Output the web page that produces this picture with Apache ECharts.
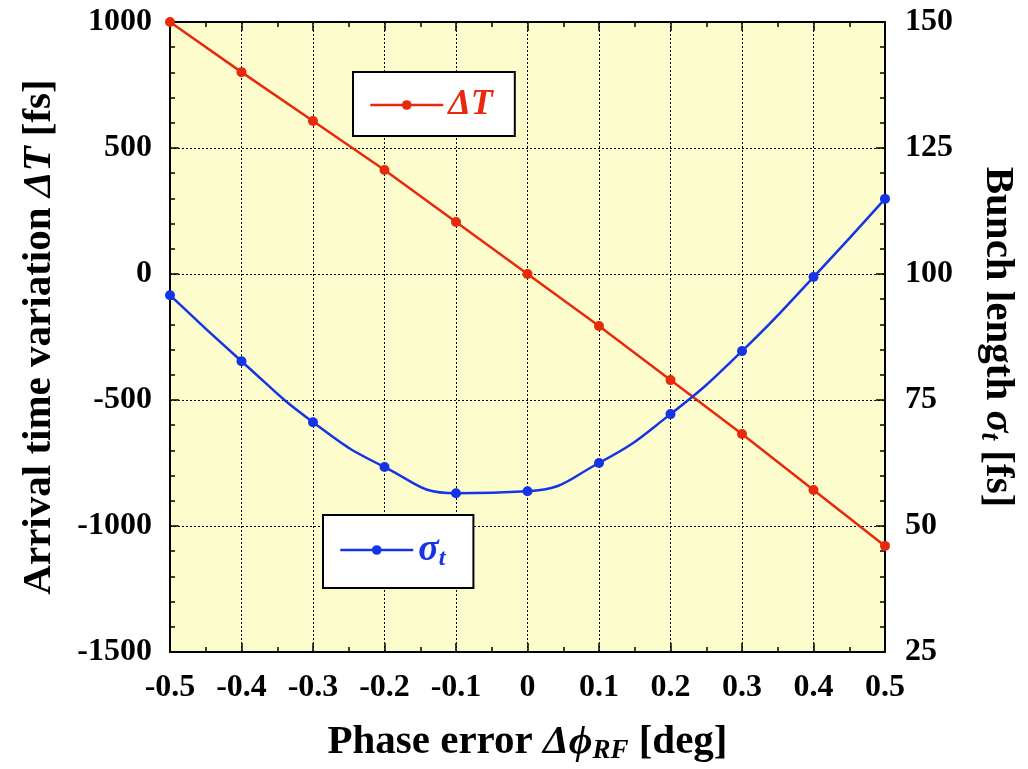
<!DOCTYPE html>
<html lang="en">
<head>
    <meta charset="UTF-8">
    <title>Arrival time variation and bunch length vs phase error</title>
    <script src="https://cdn.jsdelivr.net/npm/echarts@6/dist/echarts.min.js"></script>
    <style>
        html, body { margin: 0; padding: 0; background: #fff; }
        #main { width: 1028px; height: 769px; }
    </style>
</head>
<body>
    <div id="main"></div>
    <script>
        var chart = echarts.init(document.getElementById('main'));

        // phase error [deg]
        var phase = [-0.5, -0.4, -0.3, -0.2, -0.1, 0, 0.1, 0.2, 0.3, 0.4, 0.5];
        // arrival time variation ΔT [fs]
        var deltaT = [1000, 801, 607, 413, 206, 0, -206, -421, -635, -857, -1079];
        // bunch length σt [fs]
        var sigmaT = [95.8, 82.7, 70.6, 61.7, 56.5, 56.9, 62.5, 72.2, 84.7, 99.4, 114.9];

        var RED = '#e8290c';
        var BLUE = '#1434e6';
        var FONT = '"Liberation Serif", "Times New Roman", serif';

        function pairs(ys) {
            return phase.map(function (x, i) { return [x, ys[i]]; });
        }

        var axisLineStyle = { show: true, onZero: false, lineStyle: { color: '#000', width: 2 } };
        var tickStyle = { show: true, inside: true, length: 9, lineStyle: { color: '#000', width: 1.5 } };
        var minorStyle = { show: true, splitNumber: 5, length: 5, lineStyle: { color: '#000', width: 1.5 } };
        var xMinor = { show: true, splitNumber: 2, length: 5, lineStyle: { color: '#000', width: 1.5 } };
        var gridLine = { show: true, lineStyle: { color: '#000', type: [2, 2], width: 1 } };
        var labelStyle = { fontFamily: FONT, fontWeight: 'bold', fontSize: 32, color: '#000' };
        var titleBase = { fontFamily: FONT, fontWeight: 'bold', fontSize: 41, color: '#000' };
        var titleItalic = { fontFamily: FONT, fontStyle: 'italic', fontWeight: 'bold', fontSize: 41, color: '#000' };
        var titleSub = { fontFamily: FONT, fontStyle: 'italic', fontWeight: 'bold', fontSize: 27, color: '#000', padding: [19, 0, 0, 0] };

        var option = {
            animation: false,
            backgroundColor: '#fff',
            grid: {
                left: 170, right: 143, top: 22, bottom: 117,
                outerBoundsMode: 'none', containLabel: false,
                show: true, backgroundColor: '#fcfccc', borderWidth: 0
            },
            legend: [
                {
                    data: ['ΔT'], left: 353, top: 72,
                    padding: [15, 22, 13, 16],
                    backgroundColor: '#fff', borderColor: '#000', borderWidth: 2,
                    itemWidth: 73, itemHeight: 12, itemGap: 8,
                    lineStyle: { width: 2.5 },
                    formatter: function () { return '{i|ΔT}'; },
                    textStyle: {
                        color: RED,
                        rich: { i: { fontFamily: FONT, fontStyle: 'italic', fontWeight: 'bold', fontSize: 36, color: RED } }
                    }
                },
                {
                    data: ['σt'], left: 323, top: 515,
                    padding: [16, 28, 17, 16],
                    backgroundColor: '#fff', borderColor: '#000', borderWidth: 2,
                    itemWidth: 73, itemHeight: 12, itemGap: 8,
                    lineStyle: { width: 2.5 },
                    formatter: function () { return '{s|σ}{t|t}'; },
                    textStyle: {
                        color: BLUE,
                        rich: {
                            s: { fontFamily: FONT, fontStyle: 'italic', fontWeight: 'bold', fontSize: 38, color: BLUE },
                            t: { fontFamily: FONT, fontStyle: 'italic', fontWeight: 'bold', fontSize: 24, color: BLUE, padding: [18, 0, 0, 0] }
                        }
                    }
                }
            ],
            xAxis: [
                {
                    type: 'value', min: -0.5, max: 0.5, interval: 0.1,
                    name: 'Phase error {i|Δϕ}{sub|RF} [deg]',
                    nameLocation: 'middle', nameGap: 67,
                    nameTextStyle: Object.assign({ rich: { i: titleItalic, sub: titleSub } }, titleBase),
                    axisLine: axisLineStyle,
                    axisTick: tickStyle,
                    minorTick: xMinor,
                    axisLabel: Object.assign({ margin: 20, formatter: function (v) { return v === 0 ? '0' : v.toFixed(1); } }, labelStyle),
                    splitLine: gridLine
                },
                {
                    type: 'value', position: 'top', min: -0.5, max: 0.5, interval: 0.1,
                    axisLine: axisLineStyle,
                    axisTick: tickStyle,
                    minorTick: xMinor,
                    axisLabel: { show: false },
                    splitLine: { show: false }
                }
            ],
            yAxis: [
                {
                    type: 'value', min: -1500, max: 1000, interval: 500,
                    name: 'Arrival time variation {i|ΔT} [fs]',
                    nameLocation: 'middle', nameGap: 110,
                    nameTextStyle: Object.assign({ rich: { i: titleItalic } }, titleBase),
                    axisLine: axisLineStyle,
                    axisTick: tickStyle,
                    minorTick: minorStyle,
                    axisLabel: Object.assign({ margin: 18, formatter: function (v) { return String(v); } }, labelStyle),
                    splitLine: gridLine
                },
                {
                    type: 'value', position: 'right', min: 25, max: 150, interval: 25,
                    name: 'Bunch length {s|σ}{t|t} [fs]',
                    nameLocation: 'middle', nameGap: 90, nameRotate: -90,
                    nameTextStyle: Object.assign({ rich: { s: titleItalic, t: titleSub } }, titleBase),
                    axisLine: axisLineStyle,
                    axisTick: tickStyle,
                    minorTick: minorStyle,
                    axisLabel: Object.assign({ margin: 20, formatter: function (v) { return String(v); } }, labelStyle),
                    splitLine: { show: false }
                }
            ],
            series: [
                {
                    name: 'ΔT', type: 'line', xAxisIndex: 0, yAxisIndex: 0,
                    data: pairs(deltaT),
                    symbol: 'circle', symbolSize: 10,
                    lineStyle: { color: RED, width: 2.5 },
                    itemStyle: { color: RED }
                },
                {
                    name: 'σt', type: 'line', xAxisIndex: 0, yAxisIndex: 1,
                    data: pairs(sigmaT),
                    smooth: 0.5,
                    symbol: 'circle', symbolSize: 10,
                    lineStyle: { color: BLUE, width: 2.5 },
                    itemStyle: { color: BLUE }
                }
            ]
        };

        chart.setOption(option);
    </script>
</body>
</html>
